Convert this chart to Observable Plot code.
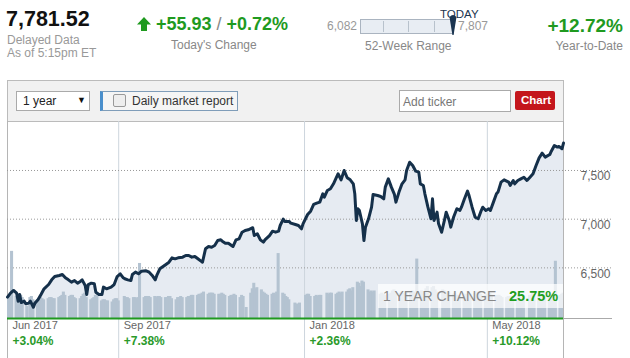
<!DOCTYPE html>
<html>
<head>
<meta charset="utf-8">
<script src="https://cdn.jsdelivr.net/npm/d3@7"></script>
<script src="https://cdn.jsdelivr.net/npm/@observablehq/plot@0.6"></script>
<style>
  body { margin: 0; background: #fff; font-family: "Liberation Sans", Arial, sans-serif; }
  #wrap { position: relative; width: 630px; height: 358px; overflow: hidden; }
  .abs { position: absolute; white-space: nowrap; line-height: 1; }
  .gray { color: #999; font-size: 12px; }
  .green { color: #1f9a1f; font-weight: bold; }
  .layer { position: absolute; left: 0; top: 121px; }
</style>
</head>
<body>
<div id="wrap">
  <!-- header -->
  <div class="abs" style="left:6px;top:9px;font-size:21.5px;font-weight:bold;color:#111;">7,781.52</div>
  <div class="abs gray" style="left:7px;top:34px;">Delayed Data</div>
  <div class="abs gray" style="left:7px;top:46.5px;">As of 5:15pm ET</div>

  <svg class="abs" style="left:137px;top:17px;" width="15" height="15" viewBox="0 0 15 15">
    <polygon points="0,7.5 7,0 14,7.5 10,7.5 10,14 4,14 4,7.5" fill="#1f9a1f"/>
  </svg>
  <div class="abs green" style="left:156px;top:15px;font-size:18px;">+55.93 <span style="color:#888;font-weight:normal;">/</span> +0.72%</div>
  <div class="abs gray" style="left:171px;top:39px;color:#888;">Today's Change</div>

  <div class="abs gray" style="left:327px;top:20px;color:#999;">6,082</div>
  <div class="abs" style="left:360px;top:19px;width:92px;height:13px;background:#e8edf3;border:1px solid #aab4c0;"></div>
  <div class="abs" style="left:383px;top:21px;width:1px;height:11px;background:#b8c2cc;"></div>
  <div class="abs" style="left:408px;top:21px;width:1px;height:11px;background:#b8c2cc;"></div>
  <div class="abs" style="left:434px;top:21px;width:1px;height:11px;background:#b8c2cc;"></div>
  <svg class="abs" style="left:449px;top:14px;" width="8" height="22" viewBox="0 0 8 22">
    <path d="M0.5,3 Q4,-1 7.5,3 L4.6,21 L3.4,21 Z" fill="#1b3550"/>
  </svg>
  <div class="abs" style="left:440px;top:8.5px;font-size:11.5px;color:#1b3550;">TODAY</div>
  <div class="abs gray" style="left:458px;top:20px;">7,807</div>
  <div class="abs gray" style="left:365px;top:39.5px;color:#888;">52-Week Range</div>

  <div class="abs green" style="right:7px;top:15.5px;font-size:19px;">+12.72%</div>
  <div class="abs gray" style="right:7px;top:39.5px;color:#888;">Year-to-Date</div>

  <!-- toolbar -->
  <div class="abs" style="left:7px;top:80px;width:555px;height:40px;background:#f1f1f1;border:1px solid #bbb;"></div>
  <div class="abs" style="left:16px;top:91px;width:72px;height:18px;background:#fff;border:1px solid #aaa;"></div>
  <div class="abs" style="left:23px;top:95px;font-size:12px;color:#222;">1 year</div>
  <div class="abs" style="left:77px;top:96px;font-size:9px;color:#111;">&#9660;</div>
  <div class="abs" style="left:100px;top:91px;width:134px;height:18px;background:#f5f5f5;border:1px solid #7f9db9;border-left:3px solid #4a8fcc;"></div>
  <div class="abs" style="left:113px;top:94px;width:11px;height:11px;background:#eee;border:1px solid #999;border-radius:2px;"></div>
  <div class="abs" style="left:132px;top:94.5px;font-size:12px;color:#333;">Daily market report</div>
  <div class="abs" style="left:399px;top:90px;width:110px;height:20px;background:#fff;border:1px solid #aaa;"></div>
  <div class="abs" style="left:403px;top:95.5px;font-size:12px;color:#777;">Add ticker</div>
  <div class="abs" style="left:515px;top:91px;width:40px;height:19px;background:#c4161c;border-radius:2px;"></div>
  <div class="abs" style="left:521px;top:95px;font-size:11.5px;font-weight:bold;color:#fff;">Chart</div>

  <div id="layerA" class="layer"></div>
  <div id="layerB" class="layer"></div>
  <div id="layerC" class="layer"></div>

  <!-- 1 year change box -->
  <div class="abs" style="left:378px;top:284px;width:185px;height:24px;background:rgba(255,255,255,0.72);"></div>
  <div class="abs" style="left:383px;top:289px;font-size:14px;color:#888;">1 YEAR CHANGE</div>
  <div class="abs green" style="left:509px;top:289px;font-size:14.5px;color:#1f9e1f;">25.75%</div>
</div>

<script>
// ---- Data ----
const priceDates = [
  "2017-06-20","2017-06-22","2017-06-24","2017-06-26","2017-06-27","2017-06-28","2017-06-29","2017-07-01","2017-07-02","2017-07-04",
  "2017-07-05","2017-07-07","2017-07-08","2017-07-10","2017-07-12","2017-07-14","2017-07-17","2017-07-19","2017-07-21","2017-07-24",
  "2017-07-26","2017-07-28","2017-07-30","2017-08-01","2017-08-03","2017-08-05","2017-08-07","2017-08-08","2017-08-10","2017-08-11",
  "2017-08-12","2017-08-14","2017-08-16","2017-08-17","2017-08-19","2017-08-21","2017-08-22","2017-08-24","2017-08-27","2017-08-29",
  "2017-08-31","2017-09-02","2017-09-04","2017-09-05","2017-09-07","2017-09-09","2017-09-10","2017-09-12","2017-09-14","2017-09-16",
  "2017-09-19",
  "2017-09-21","2017-09-23","2017-09-25","2017-09-26","2017-09-28","2017-10-02","2017-10-04","2017-10-06","2017-10-08","2017-10-10",
  "2017-10-13","2017-10-15","2017-10-17","2017-10-19","2017-10-21","2017-10-23","2017-10-25","2017-10-26","2017-10-28","2017-10-30",
  "2017-11-01","2017-11-03","2017-11-05","2017-11-07","2017-11-08","2017-11-10","2017-11-12","2017-11-15","2017-11-17","2017-11-19",
  "2017-11-21","2017-11-23","2017-11-25","2017-11-28","2017-11-29","2017-12-01","2017-12-03","2017-12-05","2017-12-06","2017-12-09",
  "2017-12-11","2017-12-13","2017-12-15","2017-12-16","2017-12-18","2017-12-19","2017-12-22",
  "2017-12-23","2017-12-26","2017-12-28","2017-12-30","2017-12-31","2018-01-03","2018-01-05","2018-01-07","2018-01-09","2018-01-11",
  "2018-01-13","2018-01-14","2018-01-16","2018-01-18","2018-01-20","2018-01-22","2018-01-23","2018-01-25","2018-01-27","2018-01-29",
  "2018-01-31","2018-02-02","2018-02-03","2018-02-04","2018-02-05","2018-02-06","2018-02-08","2018-02-09","2018-02-10","2018-02-12",
  "2018-02-14","2018-02-15","2018-02-18","2018-02-20","2018-02-22","2018-02-23","2018-02-25","2018-02-27","2018-03-01","2018-03-02",
  "2018-03-04","2018-03-06","2018-03-08","2018-03-09","2018-03-11","2018-03-13","2018-03-15","2018-03-17","2018-03-18","2018-03-20",
  "2018-03-21","2018-03-23",
  "2018-03-25","2018-03-26","2018-03-27","2018-03-29","2018-03-30","2018-04-01","2018-04-03","2018-04-04","2018-04-06","2018-04-07",
  "2018-04-09","2018-04-11","2018-04-13","2018-04-14","2018-04-16","2018-04-18","2018-04-19","2018-04-21","2018-04-23","2018-04-25",
  "2018-04-27","2018-04-28","2018-04-30","2018-05-02","2018-05-03","2018-05-05","2018-05-07","2018-05-08","2018-05-10","2018-05-12",
  "2018-05-15","2018-05-16","2018-05-18","2018-05-19","2018-05-21","2018-05-23","2018-05-25","2018-05-27","2018-05-29","2018-05-31",
  "2018-06-02","2018-06-04","2018-06-06","2018-06-08","2018-06-11","2018-06-12","2018-06-14","2018-06-16","2018-06-17","2018-06-19",
  "2018-06-20"
];
const closes = [
  6199,6240,6268,6240,6158,6227,6144,6158,6131,6138,
  6158,6096,6138,6172,6227,6285,6329,6377,6411,6422,
  6432,6398,6377,6353,6370,6343,6363,6377,6319,6227,
  6329,6343,6336,6250,6227,6227,6302,6285,6302,6329,
  6411,6439,6398,6388,6377,6370,6432,6456,6439,6466,
  6470,
  6456,6422,6377,6422,6490,6535,6558,6603,6593,6603,
  6610,6627,6627,6610,6617,6593,6569,6558,6696,6719,
  6712,6730,6781,6788,6774,6753,6753,6719,6788,6798,
  6866,6884,6891,6912,6832,6850,6788,6764,6788,6832,
  6877,6867,6877,6935,7000,6977,6977,
  6959,6945,6935,6901,6952,7048,7082,7151,7164,7175,
  7260,7226,7295,7312,7363,7431,7466,7404,7500,7425,
  7404,7363,7260,6987,7107,7089,6952,6781,6918,7004,
  7123,7254,7243,7233,7209,7329,7414,7329,7254,7175,
  7278,7363,7404,7500,7585,7551,7493,7483,7363,7346,
  7260,7123,
  7004,7209,6987,7072,6952,6866,7000,7072,6987,6918,
  7028,7107,7090,7123,7209,7288,7243,7123,7020,7004,
  7089,7123,7089,7107,7089,7175,7260,7278,7380,7404,
  7380,7346,7397,7363,7397,7414,7431,7397,7431,7466,
  7551,7630,7678,7637,7664,7698,7757,7740,7747,7723,
  7781.52
];

// daily volume (billions of shares), one row per week, Mon..Fri (null = no session / outside range)
const volumeWeekStarts = [
  "2017-06-19","2017-06-26","2017-07-03","2017-07-10","2017-07-17","2017-07-24","2017-07-31","2017-08-07","2017-08-14","2017-08-21",
  "2017-08-28","2017-09-04","2017-09-11","2017-09-18","2017-09-25","2017-10-02","2017-10-09","2017-10-16","2017-10-23","2017-10-30",
  "2017-11-06","2017-11-13","2017-11-20","2017-11-27","2017-12-04","2017-12-11","2017-12-18","2017-12-25","2018-01-01","2018-01-08",
  "2018-01-15","2018-01-22","2018-01-29","2018-02-05","2018-02-12","2018-02-19","2018-02-26","2018-03-05","2018-03-12","2018-03-19",
  "2018-03-26","2018-04-02","2018-04-09","2018-04-16","2018-04-23","2018-04-30","2018-05-07","2018-05-14","2018-05-21","2018-05-28",
  "2018-06-04","2018-06-11","2018-06-18"
];
const weeklyVolumes = [
  [null,1.9,1.9,2.0,6.1],[2.0,2.2,2.0,2.1,1.9],[1.1,null,1.9,2.0,1.7],[1.7,1.8,1.9,1.8,1.7],[1.8,1.9,1.9,1.8,1.8],
  [1.9,2.0,2.1,2.4,2.1],[2.0,2.1,2.1,1.9,1.8],[1.8,2.0,2.2,2.3,1.9],[1.7,1.8,1.9,2.1,2.0],[1.6,1.7,1.7,1.6,1.6],
  [1.5,1.7,1.8,1.8,1.6],[null,2.0,1.9,1.9,1.8],[1.9,1.9,1.8,1.9,5.0],[1.9,2.0,2.0,2.0,1.9],[2.0,1.9,2.0,2.0,1.9],
  [1.9,1.9,2.0,2.0,1.8],[1.7,1.9,1.9,2.0,1.9],[1.9,2.0,2.0,2.1,2.1],[2.1,2.2,2.2,2.3,2.4],[2.2,2.3,2.3,2.3,2.2],
  [2.2,2.2,2.3,2.2,2.1],[2.0,2.1,2.1,2.2,2.1],[1.9,2.1,2.0,null,1.0],[2.3,2.7,3.2,2.7,2.8],[2.6,2.4,2.3,2.2,2.1],
  [2.2,2.3,2.2,2.4,5.9],[2.3,2.2,2.0,1.9,1.7],[null,1.4,1.3,1.3,1.4],[null,2.1,2.2,2.2,2.0],[2.0,2.1,2.0,2.1,2.1],
  [null,2.3,2.2,2.3,2.3],[2.2,2.3,2.4,2.3,2.4],[2.4,2.6,2.7,2.5,2.8],[3.3,3.2,2.9,3.4,3.3],[2.6,2.4,2.5,2.4,2.5],
  [null,2.2,2.3,2.2,2.1],[2.2,2.3,2.5,2.6,2.4],[2.3,2.4,2.3,2.2,2.4],[2.3,2.5,2.4,2.3,5.4],[2.5,2.4,2.3,2.7,2.9],
  [2.8,2.9,2.6,2.4,null],[2.6,2.5,2.4,2.3,2.4],[2.2,2.3,2.1,2.1,2.0],[2.1,2.2,2.1,2.2,2.2],[2.3,2.4,2.4,2.3,2.2],
  [2.1,2.2,2.2,2.3,2.1],[2.0,2.1,2.1,2.0,1.9],[1.9,2.0,2.0,1.9,2.0],[1.9,2.0,1.9,1.8,1.7],[null,2.1,2.1,2.3,2.0],
  [2.1,2.2,2.2,2.3,2.0],[2.1,2.2,2.2,2.3,5.2],[2.1,2.2,2.3,null,null]
];

const yTicks = [6500, 7000, 7500];
const periodStarts = ["2017-06-20","2017-09-01","2018-01-01","2018-05-01"];
const periodLabels = ["Jun 2017","Sep 2017","Jan 2018","May 2018"];
const periodChanges = ["+3.04%","+7.38%","+2.36%","+10.12%"];

// ---- Tables built from the arrays ----
const prices = priceDates.map((d, i) => ({date: new Date(d), close: closes[i]}));
const volumeRows = volumeWeekStarts.flatMap((w, i) =>
  weeklyVolumes[i].map((v, j) => v == null ? null : {date: d3.utcDay.offset(new Date(w), j), volume: v})
).filter(Boolean);
const periods = periodStarts.map((d, i) => ({date: new Date(d), label: periodLabels[i], change: periodChanges[i]}));

const xDomain = [prices[0].date, prices[prices.length - 1].date];
const yDomain = [5980, 8003];

const base = {
  width: 630, height: 237,
  marginLeft: 7, marginRight: 67, marginTop: 0, marginBottom: 40,
  x: {type: "utc", domain: xDomain, axis: null},
  style: {background: "transparent", overflow: "visible", fontFamily: "'Liberation Sans', Arial, sans-serif"}
};
const day = 24 * 3600 * 1000;

// Layer A: area, grid, labels
const plotA = Plot.plot({
  ...base,
  y: {domain: yDomain, axis: null},
  marks: [
    Plot.areaY(prices, {x: "date", y: "close", fill: "#e6ebf2", clip: true}),
    Plot.ruleX(periods.slice(1), {x: "date", stroke: "#cdd5dd", insetBottom: -40}),
    Plot.ruleX(xDomain, {stroke: "#b5b5b5", insetBottom: -40}),
    Plot.ruleY(yTicks, {stroke: "#999", strokeDasharray: "1,2", insetRight: -49}),
    Plot.ruleY([yDomain[0]], {stroke: "#aaa", insetRight: -49}),
    Plot.text(yTicks, {y: d => d, frameAnchor: "right", text: d => d3.format(",")(d), textAnchor: "end", dx: 47, dy: 6, fill: "#666", fontSize: 12}),
    Plot.text(periods, {x: "date", frameAnchor: "bottom", text: "label", textAnchor: "start", dx: 5, dy: 10, fill: "#666", fontSize: 11}),
    Plot.text(periods, {x: "date", frameAnchor: "bottom", text: "change", textAnchor: "start", dx: 5, dy: 26, fill: "#2a9a2a", fontSize: 12, fontWeight: "bold"})
  ]
});
document.getElementById("layerA").append(plotA);

// Layer B: volume bars
const plotB = Plot.plot({
  ...base,
  y: {domain: [0, 17.9], axis: null},
  marks: [
    Plot.rectY(volumeRows, {x1: d => new Date(+d.date - day), x2: d => new Date(+d.date + day), y: "volume", fill: "#b4c3d1", clip: true})
  ]
});
document.getElementById("layerB").append(plotB);

// Layer C: price line and baseline
const plotC = Plot.plot({
  ...base,
  y: {domain: yDomain, axis: null},
  marks: [
    Plot.lineY(prices, {x: "date", y: "close", stroke: "#15304a", strokeWidth: 3, strokeLinejoin: "round", strokeLinecap: "round"}),
    Plot.ruleY([yDomain[0]], {stroke: "#1f9a1f", strokeWidth: 2})
  ]
});
document.getElementById("layerC").append(plotC);
</script>
</body>
</html>
